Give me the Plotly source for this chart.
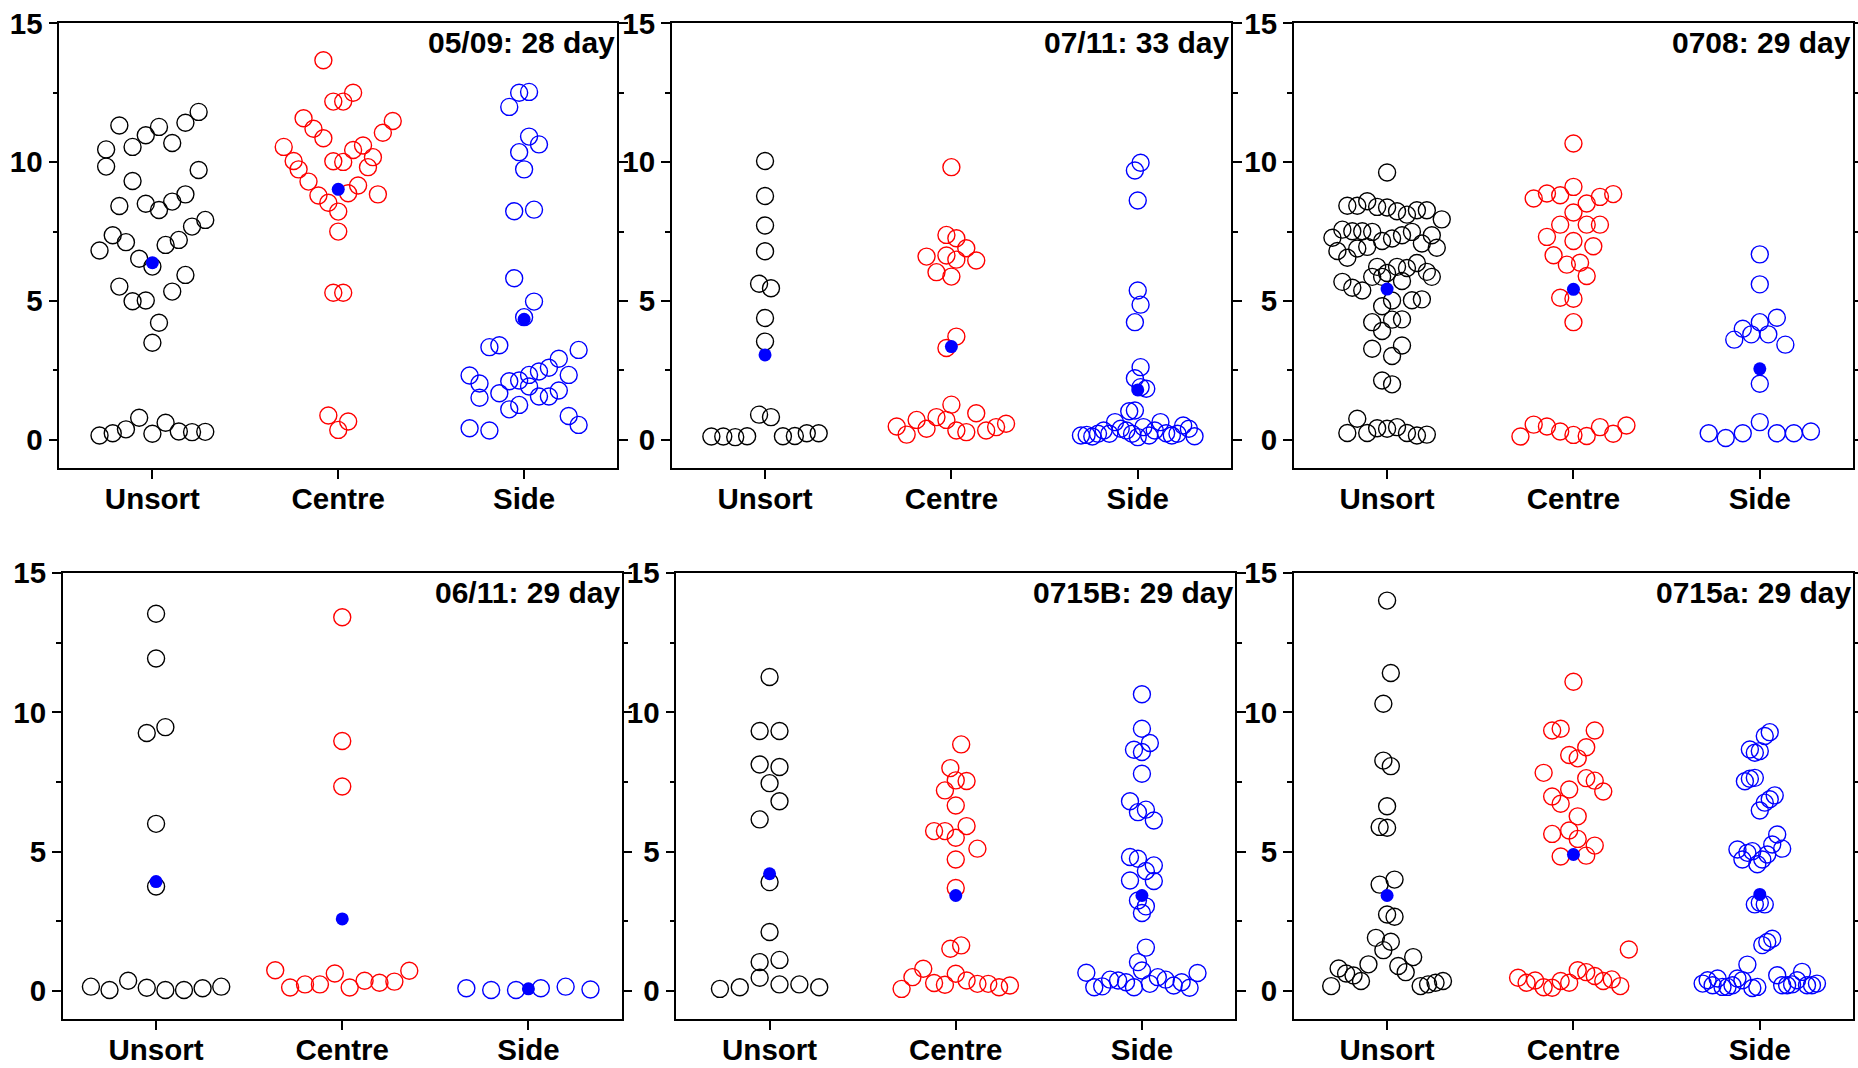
import numpy as np
import plotly.graph_objects as go
from collections import Counter, defaultdict

# ---------------- data ----------------
categories = ["Unsort", "Centre", "Side"]
panel_titles = ["05/09: 28 day", "07/11: 33 day", "0708: 29 day",
                "06/11: 29 day", "0715B: 29 day", "0715a: 29 day"]

# panel 1 : 05/09
p1_unsort = [0.16, 0.24, 0.38, 0.80, 0.22, 0.62, 0.30, 0.28, 0.29,
             3.50,
             5.52, 4.99, 5.02, 4.22, 5.34, 5.94,
             6.82, 7.37, 7.12, 6.52, 6.24, 7.02, 7.20, 7.68, 7.92,
             9.84, 8.42, 9.32, 8.50, 8.28, 8.58, 8.84, 9.72,
             10.46, 11.32, 10.55, 10.97, 11.27, 10.69, 11.42, 11.81]
p1_centre = [0.88, 0.36, 0.66,
             5.30, 5.30,
             7.50,
             9.74, 9.30, 8.80, 8.54, 8.22, 8.88, 9.16, 9.82, 8.84,
             10.55, 10.04, 11.58, 11.20, 10.86, 10.03, 10.01, 10.44, 10.60, 10.18, 11.06, 11.48,
             13.67, 12.18, 12.18, 12.50]
p1_side = [0.42, 1.52, 0.34, 1.68, 1.10, 1.26, 1.92, 1.56, 1.56, 1.78, 0.86, 0.54,
           2.32, 2.03, 3.34, 3.41, 2.11, 2.14, 2.34, 2.46, 2.60, 2.92, 2.34, 3.24,
           5.82, 4.42, 4.98,
           8.23, 9.74, 8.29,
           11.99, 10.36, 10.92, 10.64,
           12.50, 12.53]

# panel 2 : 07/11
p2_unsort = [0.12, 0.12, 0.10, 0.13, 0.91, 0.82, 0.13, 0.14, 0.24, 0.24,
             3.54, 4.39, 5.62, 5.46, 6.79, 7.72, 8.78, 10.04]
p2_centre = [0.48, 0.19, 0.72, 0.40, 0.82, 0.72, 0.34, 0.28, 0.96, 0.34, 0.46, 0.58,
             1.27, 3.31, 3.72, 5.88,
             6.60, 6.04, 6.64, 6.49, 6.90, 6.46,
             7.38, 7.26, 9.82]
p2_side = [0.16, 0.18, 0.12, 0.22, 0.34, 0.22, 0.64, 0.40, 0.34, 0.22, 0.10,
           0.46, 0.16, 0.34, 0.64, 0.24, 0.16, 0.22, 0.52, 0.40, 0.13,
           1.03, 1.06, 1.90, 1.84,
           2.22, 2.62, 4.24, 4.87, 5.38, 8.62, 9.70, 9.98]

# panel 3 : 0708
p3_unsort = [0.25, 0.76, 0.25, 0.42, 0.40, 0.46, 0.25, 0.16, 0.19,
             2.14, 2.00,
             3.28, 3.92, 3.02, 3.40,
             4.24, 4.81, 4.33, 4.34,
             5.69, 5.48, 5.38, 5.87, 5.87, 5.02, 5.72, 5.03, 5.06, 5.87,
             6.80, 6.56, 6.89, 6.95, 6.23, 6.01, 6.23, 6.19, 6.37, 6.05, 6.92,
             7.28, 7.57, 7.51, 7.51, 7.49, 7.16, 7.25, 7.37, 7.49, 7.07, 7.37, 7.94,
             8.43, 8.43, 8.59, 8.39, 8.37, 8.23, 8.11, 8.27, 8.27,
             9.63]
p3_centre = [0.12, 0.55, 0.48, 0.30, 0.18, 0.14, 0.46, 0.22, 0.52,
             4.24, 5.12, 5.08, 5.90,
             6.65, 6.31, 6.38, 6.97,
             7.31, 7.75, 7.16, 7.75, 7.75,
             8.69, 8.87, 8.81, 8.19, 8.51, 8.75, 8.85,
             9.11, 10.67]
p3_side = [0.24, 0.07, 0.24, 0.64, 0.24, 0.24, 0.30,
           2.02, 3.61, 3.80, 3.80, 3.43, 4.00, 4.24, 4.40, 5.60, 6.68]

# panel 4 : 06/11
p4_unsort = [0.16, 0.04, 0.37, 0.12, 0.04, 0.04, 0.10, 0.16,
             3.75, 6.00, 9.26, 9.47, 11.93, 13.54]
p4_centre = [0.75, 0.13, 0.24, 0.24, 0.63, 0.13, 0.37, 0.30, 0.34, 0.73,
             7.34, 8.97, 13.41]
p4_side = [0.10, 0.04, 0.04, 0.10, 0.16, 0.06]

# panel 5 : 0715B
p5_unsort = [0.08, 0.14, 0.48, 0.24, 0.24, 0.14,
             1.04, 1.12, 2.12, 3.91, 6.16, 6.81, 7.46, 8.13, 8.04, 9.33, 9.33, 11.27]
p5_centre = [0.08, 0.50, 0.80, 0.29, 0.23, 0.62, 0.38, 0.26, 0.26, 0.14, 0.20,
             1.52, 1.64, 3.70, 4.72,
             5.74, 5.74, 5.50, 5.92, 5.11,
             6.66, 7.20, 7.56, 7.54, 8.00, 8.85]
p5_side = [0.66, 0.14, 0.17, 0.41, 0.38, 0.32, 0.14, 0.74, 0.26, 0.50, 0.41, 0.20, 0.32, 0.12, 0.65,
           1.04, 1.56, 2.80,
           3.97, 3.25, 3.04, 3.95,
           4.81, 4.75, 4.31, 4.51,
           6.81, 6.42, 6.51, 6.12,
           7.80, 8.66, 8.58, 8.90, 9.41, 10.65]

# panel 6 : 0715a
p6_unsort = [0.18, 0.81, 0.63, 0.56, 0.36, 0.96, 1.91, 1.47, 1.77, 0.90, 0.68, 1.22,
             0.18, 0.24, 0.30, 0.36,
             3.82, 2.75, 2.67,
             5.89, 5.86, 4.00,
             6.63, 8.27, 8.07, 10.31, 11.41, 14.01]
p6_centre = [0.48, 0.30, 0.38, 0.14, 0.12, 0.36, 0.30, 0.75, 0.68, 0.54, 0.36, 0.42, 0.18, 1.49,
             5.64, 4.83, 5.76, 5.46, 4.86, 5.22,
             7.83, 6.98, 6.72, 7.23, 6.27, 7.64, 7.55, 7.16,
             9.35, 9.41, 8.47, 8.35, 8.75, 9.35,
             11.10]
p6_side = [0.27, 0.39, 0.21, 0.45, 0.15, 0.15, 0.21, 0.45, 0.39, 0.95, 0.11, 0.15,
           1.65, 1.76, 1.88, 0.57, 0.21, 0.21, 0.24, 0.39, 0.69, 0.21, 0.21, 0.27,
           3.11, 3.17, 3.11,
           5.08, 4.72, 4.96, 5.02, 4.55, 4.72, 4.90, 5.26, 5.62, 5.11,
           7.53, 7.62, 7.65, 6.48, 6.76, 6.88, 7.02,
           8.67, 8.55, 8.61, 9.15, 9.29]

mean_values = [[6.38, 9.02, 4.34],
               [3.06, 3.36, 1.80],
               [5.43, 5.42, 2.56],
               [3.93, 2.59, 0.08],
               [4.21, 3.43, 3.43],
               [3.43, 4.90, 3.47]]

panels = [[p1_unsort, p1_centre, p1_side],
          [p2_unsort, p2_centre, p2_side],
          [p3_unsort, p3_centre, p3_side],
          [p4_unsort, p4_centre, p4_side],
          [p5_unsort, p5_centre, p5_side],
          [p6_unsort, p6_centre, p6_side]]

# ---------------- layout / style settings ----------------
bin_width = [2, 1, 1, 1, 1, 2]          # value bins used for the column-scatter spread
spread = [0.64, 0.64, 0.64, 0.80, 0.64, 0.64]  # spread width in category units
group_colors = ["#000000", "#ff0000", "#0000ff"]
mean_color = "#0000ff"
FONT = "Liberation Sans, Arial, sans-serif"

x_domains = [[0.0320, 0.3321], [0.3616, 0.6625], [0.6964, 0.9973],
             [0.0339, 0.3345], [0.3641, 0.6647], [0.6964, 0.9973]]
y_domains = [[0.5621, 0.9782]] * 3 + [[0.0459, 0.4635]] * 3


def column_offsets(values, bw, width):
    """Origin-like column scatter: points in the same value bin are spread
    side by side, the spacing set by the most populated bin."""
    bins = [int(np.floor(v / bw + 1e-9)) for v in values]
    counts = Counter(bins)
    step = width / max(counts.values())
    seen = defaultdict(int)
    offs = []
    for b in bins:
        k = seen[b]
        seen[b] += 1
        offs.append((k - (counts[b] - 1) / 2.0) * step)
    return np.array(offs)


fig = go.Figure()
layout = dict(
    width=1858, height=1068,
    margin=dict(l=0, r=0, t=0, b=0, autoexpand=False),
    paper_bgcolor="white", plot_bgcolor="white",
    showlegend=False,
    font=dict(family=FONT, color="black"),
    annotations=[],
)

for i, groups in enumerate(panels):
    n = i + 1
    xa = "x" if n == 1 else f"x{n}"
    ya = "y" if n == 1 else f"y{n}"
    for g, vals in enumerate(groups):
        xs = g + column_offsets(vals, bin_width[i], spread[i])
        fig.add_trace(go.Scatter(
            x=xs, y=vals, mode="markers", xaxis=xa, yaxis=ya,
            marker=dict(symbol="circle-open", size=17, color=group_colors[g],
                        line=dict(width=1.4, color=group_colors[g])),
            hoverinfo="y"))
    fig.add_trace(go.Scatter(
        x=list(range(len(categories))), y=mean_values[i], mode="markers",
        xaxis=xa, yaxis=ya,
        marker=dict(symbol="circle", size=13, color=mean_color),
        hoverinfo="y"))

    layout["xaxis" if n == 1 else f"xaxis{n}"] = dict(
        domain=x_domains[i], anchor=ya, range=[-0.5, 2.5],
        tickmode="array", tickvals=[0, 1, 2], ticktext=categories,
        ticks="outside", ticklen=9, tickwidth=1.8, tickcolor="black",
        ticklabelstandoff=-5,
        showline=True, linewidth=1.8, linecolor="black", mirror=True,
        showgrid=False, zeroline=False,
        tickfont=dict(family=FONT, size=29.5, color="black", weight="bold"),
        fixedrange=True)
    layout["yaxis" if n == 1 else f"yaxis{n}"] = dict(
        domain=y_domains[i], anchor=xa, range=[-1, 15],
        tickmode="array", tickvals=[0, 5, 10, 15],
        ticks="outside", ticklen=9, tickwidth=1.8, tickcolor="black",
        ticklabelstandoff=0,
        minor=dict(tickmode="array", tickvals=[2.5, 7.5, 12.5], ticks="outside",
                   ticklen=5, tickwidth=1.5, tickcolor="black", showgrid=False),
        showline=True, linewidth=1.8, linecolor="black", mirror="allticks",
        showgrid=False, zeroline=False,
        tickfont=dict(family=FONT, size=29.5, color="black", weight="bold"),
        fixedrange=True)
    layout["annotations"].append(dict(
        text=panel_titles[i], xref=f"{xa} domain", yref=f"{ya} domain",
        x=1.0, y=1.0, xanchor="right", yanchor="top", yshift=-1, showarrow=False,
        font=dict(family=FONT, size=30, color="black", weight="bold")))

fig.update_layout(**layout)
fig.write_html("out.html",
               config={"displayModeBar": False},
               post_script="document.body.style.margin='0';"
                           "document.body.style.overflow='hidden';")
